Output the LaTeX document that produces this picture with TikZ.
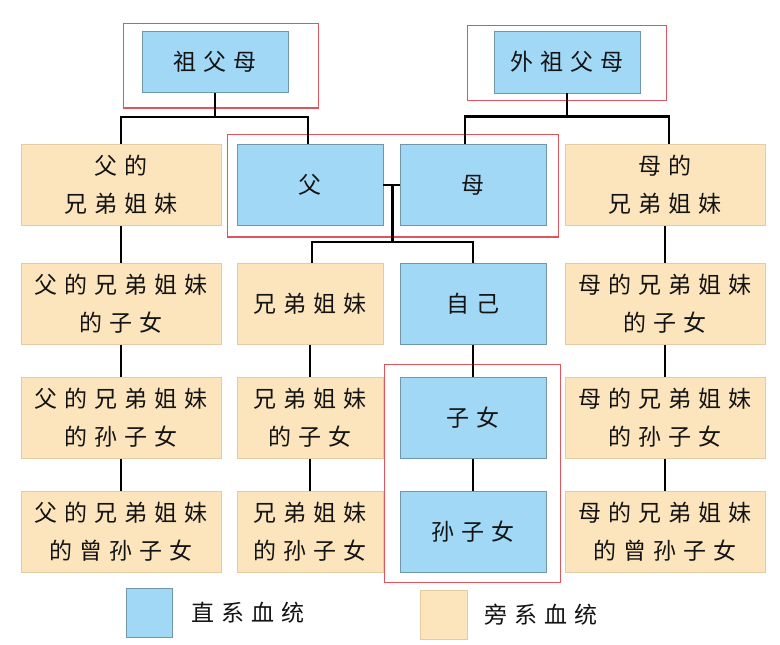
\documentclass[tikz,border=0pt]{standalone}
\usepackage{fontspec}
\newfontfamily\cjk{Noto Sans CJK SC}[LetterSpace=30]
\usetikzlibrary{positioning}
\definecolor{zhiblue}{RGB}{160,216,245}
\definecolor{zhiedge}{RGB}{112,150,170}
\definecolor{pangfill}{RGB}{252,229,188}
\definecolor{pangedge}{RGB}{226,205,162}
\definecolor{framered}{RGB}{224,84,94}
\tikzstyle{zhixi} = [rectangle, 
fill=zhiblue, 
draw=zhiedge, 
line width=0.8pt,
minimum width=146pt, 
minimum height=81pt, 
text centered, 
align=center,
font=\cjk\fontsize{23}{38}\selectfont]
\tikzstyle{pangxi} = [rectangle, 
fill=pangfill, 
draw=pangedge, 
line width=0.8pt,
minimum width=200pt, 
minimum height=81pt, 
text centered, 
align=center,
font=\cjk\fontsize{23}{38}\selectfont]
\tikzstyle{line} = [line width=2.6pt, black]
\tikzstyle{redframe} = [draw=framered, line width=1.2pt]

\begin{document}
\begin{tikzpicture}[x=1pt, y=-1pt, node distance=32pt, text=black!92]
        \fill[white] (0,0) rectangle (780,645);
        \useasboundingbox (0,0) rectangle (780,645);

        % --- Nodos superiores ---
        \node (zfm) [zhixi, minimum height=61pt] at (215,62) {祖父母};
        \node (wzfm) [zhixi, minimum height=62pt] at (567,62) {外祖父母};

        % --- Fila 1 ---
        \node (fxd) [pangxi] at (121,185) {父的\\兄弟姐妹};
        \node (fu) [zhixi] at (310,185) {父};
        \node (mu) [zhixi] at (473,185) {母};
        \node (mxd) [pangxi] at (665,185) {母的\\兄弟姐妹};

        % --- Fila 2 ---
        \node (fxdzn) [pangxi, below=37pt of fxd] {父的兄弟姐妹\\的子女};
        \node (xd) [pangxi, minimum width=146pt, below=37pt of fu] {兄弟姐妹};
        \node (zj) [zhixi, below=37pt of mu] {自己};
        \node (mxdzn) [pangxi, below=37pt of mxd] {母的兄弟姐妹\\的子女};

        % --- Fila 3 ---
        \node (fxdsz) [pangxi, below=of fxdzn] {父的兄弟姐妹\\的孙子女};
        \node (xdzn) [pangxi, minimum width=146pt, below=of xd] {兄弟姐妹\\的子女};
        \node (zn) [zhixi, below=of zj] {子女};
        \node (mxdsz) [pangxi, below=of mxdzn] {母的兄弟姐妹\\的孙子女};

        % --- Fila 4 ---
        \node (fxdzs) [pangxi, below=of fxdsz] {父的兄弟姐妹\\的曾孙子女};
        \node (xdsz) [pangxi, minimum width=146pt, below=of xdzn] {兄弟姐妹\\的孙子女};
        \node (sz) [zhixi, below=of zn] {孙子女};
        \node (mxdzs) [pangxi, below=of mxdsz] {母的兄弟姐妹\\的曾孙子女};

        % --- Marcos rojos ---
        \draw [redframe] ([shift={(-18pt,8pt)}]zfm.north west) rectangle ([shift={(30pt,-15pt)}]zfm.south east);
        \draw [redframe] ([shift={(-26pt,5pt)}]wzfm.north west) rectangle ([shift={(26pt,-7pt)}]wzfm.south east);
        \draw [redframe] ([shift={(-9pt,10pt)}]fu.north west) rectangle ([shift={(12pt,-11pt)}]mu.south east);
        \draw [redframe] ([shift={(-15pt,12pt)}]zn.north west) rectangle ([shift={(14pt,-10pt)}]sz.south east);

        % --- Conexiones ---
        \draw [line] (zfm.south) -- ++(0,24) coordinate (zbus);
        \draw [line] (fxd.north) |- (zbus) -| ([xshift=-2pt]fu.north);
        \draw [line] (wzfm.south) -- ++(0,23) coordinate (wbus);
        \draw [line] ([xshift=-8pt]mu.north) |- (wbus) -| ([xshift=4pt]mxd.north);
        \draw [line] (fu.east) -- (mu.west) coordinate[pos=0.55] (fm);
        \draw [line] (fm) -- ++(0,57) coordinate (fmbus);
        \draw [line] ([xshift=2pt]xd.north) |- (fmbus) -| (zj.north);
        \draw [line] (fxd) -- (fxdzn);
        \draw [line] (fxdzn) -- (fxdsz);
        \draw [line] (fxdsz) -- (fxdzs);
        \draw [line] (xd) -- (xdzn);
        \draw [line] (xdzn) -- (xdsz);
        \draw [line] (zj) -- (zn);
        \draw [line] (zn) -- (sz);
        \draw [line] (mxd) -- (mxdzn);
        \draw [line] (mxdzn) -- (mxdsz);
        \draw [line] (mxdsz) -- (mxdzs);

        % --- Leyenda ---
        \node (lzhi) [zhixi, minimum width=46pt, minimum height=49pt] at (149,613) {};
        \node (tzhi) [right=16pt of lzhi, font=\cjk\fontsize{23}{38}\selectfont] {直系血统};
        \node (lpang) [pangxi, minimum width=47pt, minimum height=49pt] at (444,615) {};
        \node (tpang) [right=13pt of lpang, font=\cjk\fontsize{23}{38}\selectfont] {旁系血统};

    \end{tikzpicture}
\end{document}
